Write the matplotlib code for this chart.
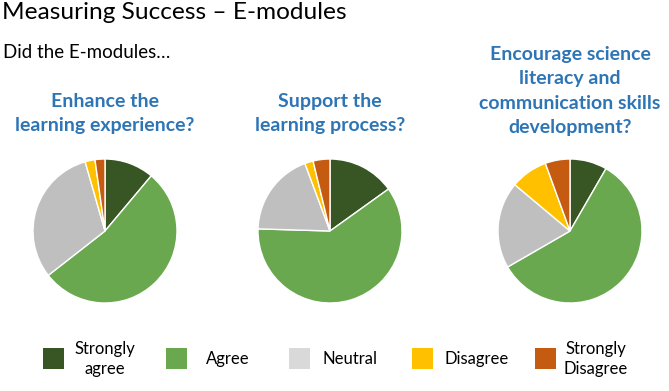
import matplotlib
matplotlib.use("Agg")
import matplotlib.pyplot as plt
from matplotlib.patches import Rectangle

plt.rcParams['font.family'] = ['Lato', 'DejaVu Sans']

categories = ["Strongly\nagree", "Agree", "Neutral", "Disagree", "Strongly\nDisagree"]
pie_colors = ["#375623", "#6AA84F", "#BFBFBF", "#FFC000", "#C55A11"]
legend_colors = ["#375623", "#6AA84F", "#D9D9D9", "#FFC000", "#C55A11"]

questions = ["Enhance the\nlearning experience?",
             "Support the\nlearning process?",
             "Encourage science\nliteracy and\ncommunication skills\ndevelopment?"]
enhance = [5, 24, 14, 1, 1]
support = [8, 32, 10, 1, 2]
encourage = [3, 21, 7, 3, 2]
series = [enhance, support, encourage]

W, H = 669, 391
fig = plt.figure(figsize=(W / 100, H / 100), dpi=100)
fig.patch.set_facecolor("white")

def px(x, y):
    return x / W, 1 - y / H

# pies
centers = [(105, 231), (330, 231), (570, 231)]
radius = 72
title_tops = [93, 93, 46]
for (cx, cy), vals, q, tt in zip(centers, series, questions, title_tops):
    ax = fig.add_axes([(cx - radius) / W, 1 - (cy + radius) / H, 2 * radius / W, 2 * radius / H])
    ax.pie(vals, colors=pie_colors, startangle=90, counterclock=False,
           wedgeprops=dict(edgecolor="white", linewidth=1.0))
    ax.set_xlim(-1.0, 1.0)
    ax.set_ylim(-1.0, 1.0)
    ax.set_aspect("equal")
    ax.axis("off")
    x, y = px(cx, tt)
    fig.text(x, y, q, ha="center", va="top", fontsize=14, fontweight="bold",
             color="#2E75B6", linespacing=1.53)

# titles
x, y = px(2, 2)
fig.text(x, y, "Measuring Success – E-modules", ha="left", va="top", fontsize=17.6, color="black")
x, y = px(3, 44)
fig.text(x, y, "Did the E-modules…", ha="left", va="top", fontsize=13.5, color="black")

# legend
box_x = [43, 166, 289, 412, 535]
text_x = [105, 206, 323, 444, 596]
text_ha = ["center", "left", "left", "left", "center"]
for bx, tx, ha, lab, col in zip(box_x, text_x, text_ha, categories, legend_colors):
    x0, y0 = px(bx, 369)
    fig.patches.append(Rectangle((x0, y0), 21 / W, 21 / H, transform=fig.transFigure,
                                 facecolor=col, edgecolor="none"))
    x, y = px(tx, 359)
    fig.text(x, y, lab, ha=ha, va="center", fontsize=12, color="black",
             multialignment="center", linespacing=1.3)

fig.savefig("out.png", dpi=100)
